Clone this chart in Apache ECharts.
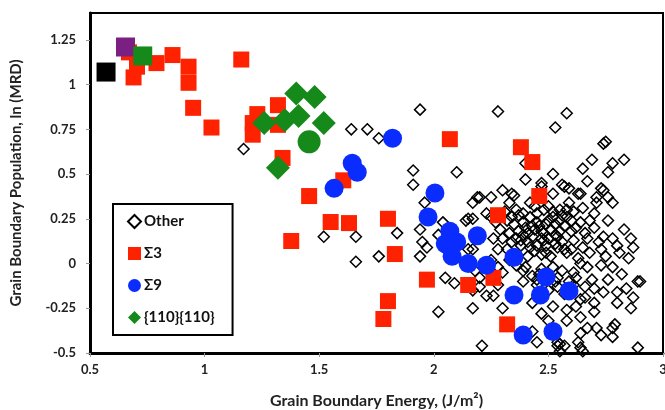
<!DOCTYPE html>
<html>
<head>
<meta charset="utf-8">
<script src="https://cdn.jsdelivr.net/npm/echarts@6/dist/echarts.min.js"></script>
<style>
  html, body { margin: 0; padding: 0; background: #fff; }
  #chart { width: 665px; height: 410px; }
</style>
</head>
<body>
<div id="chart"></div>
<script>
// energy (J/m2), ln(MRD)
const otherPts = [
  [1.17,0.64],[1.64,0.75],[1.71,0.75],[1.76,0.70],[1.94,0.86],[2.28,0.85],[2.58,0.84],[2.53,0.76],[2.74,0.67],[2.75,0.68],
  [1.91,0.52],[1.91,0.44],[2.10,0.51],[2.40,0.56],[2.40,0.47],[2.52,0.50],[2.47,0.45],[2.56,0.44],[2.65,0.53],[2.69,0.58],
  [2.67,0.46],[2.76,0.51],[2.78,0.56],[2.83,0.58],[2.74,0.41],[2.63,0.39],[2.52,0.39],[2.30,0.41],[2.19,0.37],[2.34,0.39],
  [2.25,0.37],[2.59,0.42],[2.64,0.39],[2.73,0.42],[2.76,0.37],[2.35,0.38],[2.59,0.34],[2.71,0.34],[2.78,0.34],[2.65,0.31],
  [2.42,0.34],[2.50,0.32],[2.55,0.30],[2.39,0.28],[1.96,0.34],[2.17,0.34],[2.20,0.37],[2.15,0.25],[2.23,0.28],[2.33,0.34],
  [2.47,0.43],[2.57,0.43],[2.71,0.37],[2.14,0.24],[2.45,0.23],[2.52,0.29],[2.58,0.26],[2.64,0.23],[2.70,0.28],[2.76,0.24],
  [2.04,0.23],[1.94,0.19],[1.84,0.17],[2.17,0.25],[2.26,0.14],[2.33,0.17],[2.38,0.13],[2.43,0.15],[2.48,0.13],[2.54,0.15],
  [2.61,0.13],[2.67,0.14],[2.74,0.15],[2.78,0.14],[2.86,0.14],[2.87,0.09],[2.81,0.06],[2.73,0.08],[2.65,0.09],[2.58,0.06],
  [2.54,0.09],[2.47,0.05],[2.41,0.04],[2.32,0.08],[2.28,0.08],[2.15,0.08],[1.95,0.12],[1.97,0.09],[1.66,0.15],[1.66,0.01],
  [1.76,0.04],[1.94,0.04],[1.52,0.15],[2.02,0.16],[2.17,0.08],[2.05,-0.08],[2.09,-0.11],[2.30,-0.05],[2.39,-0.04],[2.45,-0.09],
  [2.54,-0.08],[2.61,-0.05],[2.67,-0.02],[2.73,-0.01],[2.78,-0.02],[2.69,-0.09],[2.61,-0.12],[2.54,-0.13],[2.20,-0.13],[2.76,-0.09],
  [2.89,-0.10],[2.90,-0.10],[2.64,0.00],[2.17,-0.15],[2.23,-0.18],[2.26,-0.18],[2.30,-0.25],[2.17,-0.25],[2.02,-0.27],[2.43,-0.22],
  [2.47,-0.28],[2.52,-0.24],[2.58,-0.26],[2.64,-0.20],[2.70,-0.22],[2.80,-0.22],[2.86,-0.25],[2.74,-0.16],[2.80,-0.16],[2.64,-0.30],
  [2.70,-0.27],[2.58,-0.32],[2.50,-0.32],[2.43,-0.38],[2.45,-0.44],[2.54,-0.44],[2.64,-0.39],[2.67,-0.36],[2.71,-0.36],[2.78,-0.36],
  [2.78,-0.41],[2.73,-0.40],[2.65,-0.49],[2.21,-0.46],[2.89,-0.47],[2.54,-0.46],[2.79,-0.34],[2.64,-0.47],[2.55,-0.45],[2.35,0.22],
  [2.37,0.18],[2.40,0.20],[2.42,0.26],[2.44,0.19],[2.46,0.21],[2.48,0.17],[2.50,0.24],[2.51,0.19],[2.53,0.22],[2.55,0.18],
  [2.57,0.21],[2.60,0.18],[2.62,0.20],[2.38,0.10],[2.41,0.12],[2.44,0.07],[2.49,0.10],[2.51,0.04],[2.56,0.12],[2.60,0.08],
  [2.63,0.03],[2.33,0.02],[2.36,-0.01],[2.40,-0.02],[2.43,-0.07],[2.47,-0.03],[2.52,-0.02],[2.56,-0.04],[2.59,-0.10],[2.62,-0.08],
  [2.66,-0.13],[2.34,0.12],[2.32,0.24],[2.29,0.19],[2.27,0.23],[2.25,0.26],[2.36,0.30],[2.48,0.30],[2.58,0.30],[2.70,0.20],
  [2.72,0.12],[2.68,0.06],[2.75,0.04],[2.80,0.10],[2.83,0.19],[2.85,0.03],[2.82,-0.06],[2.84,-0.14],[2.87,-0.19],[2.70,-0.14],
  [2.66,-0.19],[2.62,-0.24],[2.57,-0.17],[2.50,-0.15],[2.45,-0.12],[2.39,-0.10],[2.28,-0.02],[2.25,0.02],[2.28,-0.12],[2.20,-0.08],
  [2.18,-0.04],[2.37,0.27],[2.39,0.23],[2.41,0.17],[2.43,0.21],[2.45,0.28],[2.47,0.18],[2.49,0.22],[2.50,0.14],[2.52,0.26],
  [2.53,0.16],[2.55,0.24],[2.45,0.10],[2.47,0.14],[2.53,0.11],[2.39,0.16],[2.42,0.09],[2.36,0.14],[2.30,0.14],[2.31,0.29],
  [2.34,0.26],[2.44,0.32],[2.56,0.27],[2.60,0.24],[2.61,0.29],[2.49,0.06],[2.57,0.08],[2.46,-0.06],[2.53,-0.10],[2.57,-0.46],
  [2.55,-0.49],[2.63,-0.44],[2.66,0.17],[2.68,0.24]
];
const sigma3Pts = [
  [0.67,1.18],[0.705,1.10],[0.69,1.04],[0.79,1.12],[0.86,1.165],[0.93,1.10],[0.93,1.01],[0.95,0.87],[1.03,0.76],[1.16,1.14],
  [1.23,0.835],[1.32,0.885],[1.21,0.785],[1.21,0.72],[1.32,0.775],[1.34,0.59],[1.605,0.465],[1.456,0.377],[1.55,0.232],[1.63,0.226],
  [1.80,0.25],[1.378,0.126],[1.83,0.053],[1.97,-0.09],[1.80,-0.21],[1.78,-0.31],[2.07,0.695],[2.38,0.65],[2.43,0.567],[2.46,0.377],
  [2.15,-0.12],[2.26,-0.08],[2.28,0.27],[2.32,-0.34]
];
const sigma9Pts = [
  [1.82,0.70],[1.644,0.56],[1.666,0.51],[1.565,0.42],[2.005,0.394],[1.975,0.26],[2.07,0.18],[2.05,0.11],[2.10,0.12],[2.08,0.04],
  [2.19,0.155],[2.15,0.0],[2.23,-0.01],[2.35,0.035],[2.49,-0.075],[2.35,-0.176],[2.465,-0.176],[2.59,-0.153],[2.39,-0.40],[2.52,-0.38]
];
const twistPts = [
  [1.26,0.785],[1.35,0.80],[1.41,0.825],[1.40,0.95],[1.48,0.93],[1.52,0.785],[1.32,0.535]
];
const blackSquare = [[0.57,1.07]];
const purpleSquare = [[0.655,1.21]];
const greenSquare = [[0.73,1.16]];
const greenCircle = [[1.456,0.68]];

const xTicks = ['0.5','1','1.5','2','2.5','3'];

const chart = echarts.init(document.getElementById('chart'));
const fontFam = 'Lato, "Open Sans", sans-serif';

chart.setOption({
  animation: false,
  grid: {
    left: 90, right: 2, top: 13, bottom: 57,
    outerBoundsMode: 'none', containLabel: false,
    show: true, borderColor: '#000', borderWidth: 2
  },
  legend: {
    orient: 'vertical',
    left: 113, top: 204,
    padding: [10, 18, 10, 14],
    itemGap: 17,
    itemWidth: 13, itemHeight: 13,
    borderColor: '#000', borderWidth: 2,
    backgroundColor: '#fff',
    data: ['Other', 'Σ3', 'Σ9', '{110}{110}'],
    textStyle: { fontFamily: fontFam, fontWeight: 'bold', fontSize: 15, color: '#111', padding: [0, 0, 0, -2] }
  },
  xAxis: {
    type: 'value',
    min: 0.5, max: 3, interval: 0.5,
    name: 'Grain Boundary Energy, (J/m²)',
    nameLocation: 'middle', nameGap: 40,
    nameTextStyle: { fontFamily: fontFam, fontWeight: 'bold', fontSize: 16, color: '#222' },
    axisLine: { onZero: false, lineStyle: { color: '#000', width: 3 } },
    axisTick: { show: true, length: 4, lineStyle: { color: '#999' } },
    axisLabel: { fontFamily: fontFam, fontWeight: 'bold', fontSize: 13, color: '#222', margin: 10,
      formatter: v => xTicks[Math.round((v - 0.5) / 0.5)] },
    splitLine: { show: false }
  },
  yAxis: {
    type: 'value',
    min: -0.5, max: 1.4, interval: 0.25,
    name: 'Grain Boundary Population, ln (MRD)',
    nameLocation: 'middle', nameGap: 66,
    nameTextStyle: { fontFamily: fontFam, fontWeight: 'bold', fontSize: 15, color: '#222' },
    axisLine: { show: true, onZero: false, lineStyle: { color: '#000', width: 3 } },
    axisTick: { show: true, length: 4, lineStyle: { color: '#999' } },
    axisLabel: { fontFamily: fontFam, fontWeight: 'bold', fontSize: 13, color: '#222', margin: 14, showMaxLabel: false },
    splitLine: { show: false }
  },
  series: [
    { name: 'Other', type: 'scatter', data: otherPts, symbol: 'diamond', symbolSize: 11,
      itemStyle: { color: 'rgba(255,255,255,0)', borderColor: '#000', borderWidth: 1.5, opacity: 1 } },
    { name: 'Σ3', type: 'scatter', data: sigma3Pts, symbol: 'rect', symbolSize: 16,
      itemStyle: { color: '#ff2200', opacity: 1 } },
    { name: 'Σ9', type: 'scatter', data: sigma9Pts, symbol: 'circle', symbolSize: 19,
      itemStyle: { color: '#0a2cff', opacity: 1 } },
    { name: '{110}{110}', type: 'scatter', data: twistPts, symbol: 'diamond', symbolSize: 24,
      itemStyle: { color: '#15891a', opacity: 1 } },
    { type: 'scatter', data: blackSquare, symbol: 'rect', symbolSize: 19, itemStyle: { color: '#000', opacity: 1 } },
    { type: 'scatter', data: purpleSquare, symbol: 'rect', symbolSize: 19, itemStyle: { color: '#7b1f82', opacity: 1 } },
    { type: 'scatter', data: greenSquare, symbol: 'rect', symbolSize: 19, itemStyle: { color: '#15891a', opacity: 1 } },
    { type: 'scatter', data: greenCircle, symbol: 'circle', symbolSize: 23, itemStyle: { color: '#15891a', opacity: 1 } }
  ]
});
</script>
</body>
</html>
